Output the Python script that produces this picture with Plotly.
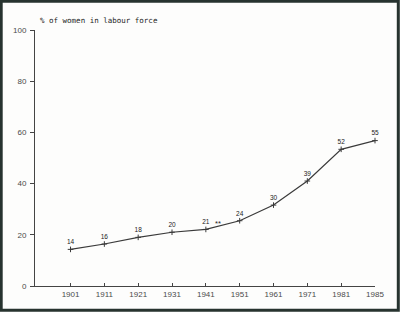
import plotly.graph_objects as go

years = ["1901", "1911", "1921", "1931", "1941", "1951", "1961", "1971", "1981", "1985"]
values = [14.3, 16.4, 19.0, 21.0, 22.1, 25.5, 31.6, 41.0, 53.4, 56.8]
value_labels = ["14", "16", "18", "20", "21", "24", "30", "39", "52", "55"]
y_ticks = [0, 20, 40, 60, 80, 100]
title_text = "% of women in labour force"
note_text = "**"

W, H = 400, 312
L, R, T, B = 35, 25, 30, 26
pw, ph = W - L - R, H - T - B

fig = go.Figure()
fig.add_trace(go.Scatter(
    x=years, y=values, mode="lines+markers+text",
    text=value_labels, textposition="top center",
    textfont=dict(family="Liberation Sans", size=6.5, color="#222222"),
    line=dict(color="#3a3a3a", width=1.2),
    marker=dict(symbol="cross-thin", size=4, line=dict(color="#3a3a3a", width=1)),
    cliponaxis=False, showlegend=False,
))

# small "**" mark beside the 1941 point
fig.add_annotation(x=4.35, y=24.3, text=note_text, showarrow=False,
                   font=dict(family="Liberation Sans", size=7.5, color="#222222"))

# title (y axis caption)
fig.add_annotation(xref="paper", yref="paper", x=(38 - L) / pw, y=(H - B - 20) / ph,
                   xanchor="left", yanchor="middle", text=title_text, showarrow=False,
                   font=dict(family="DejaVu Sans Mono", size=7.5, color="#1e1e1e"))

# dark frame around the picture
fig.add_shape(type="rect", xref="paper", yref="paper",
              x0=(1.2 - L) / pw, x1=(W - 1.7 - L) / pw,
              y0=(H - B - (H - 1.7)) / ph, y1=(H - B - 1.2) / ph,
              line=dict(color="#27332f", width=3), layer="above")

fig.update_layout(
    width=W, height=H,
    margin=dict(l=L, r=R, t=T, b=B),
    paper_bgcolor="#fdfdfc", plot_bgcolor="#fdfdfc",
    font=dict(family="Liberation Sans", size=8, color="#4a4a4a"),
    xaxis=dict(type="category", range=[-1.05, 9.0], showgrid=False, zeroline=False,
               showline=True, linecolor="#444444", linewidth=1,
               ticks="inside", ticklen=3, tickcolor="#444444",
               tickfont=dict(family="Liberation Sans", size=8, color="#4a4a4a")),
    yaxis=dict(range=[0, 100], tickvals=y_ticks, showgrid=False, zeroline=False,
               showline=True, linecolor="#444444", linewidth=1,
               ticks="outside", ticklen=4, tickcolor="#444444", ticklabelstandoff=2,
               tickfont=dict(family="Liberation Sans", size=8, color="#4a4a4a")),
)

fig.write_html("out.html")
